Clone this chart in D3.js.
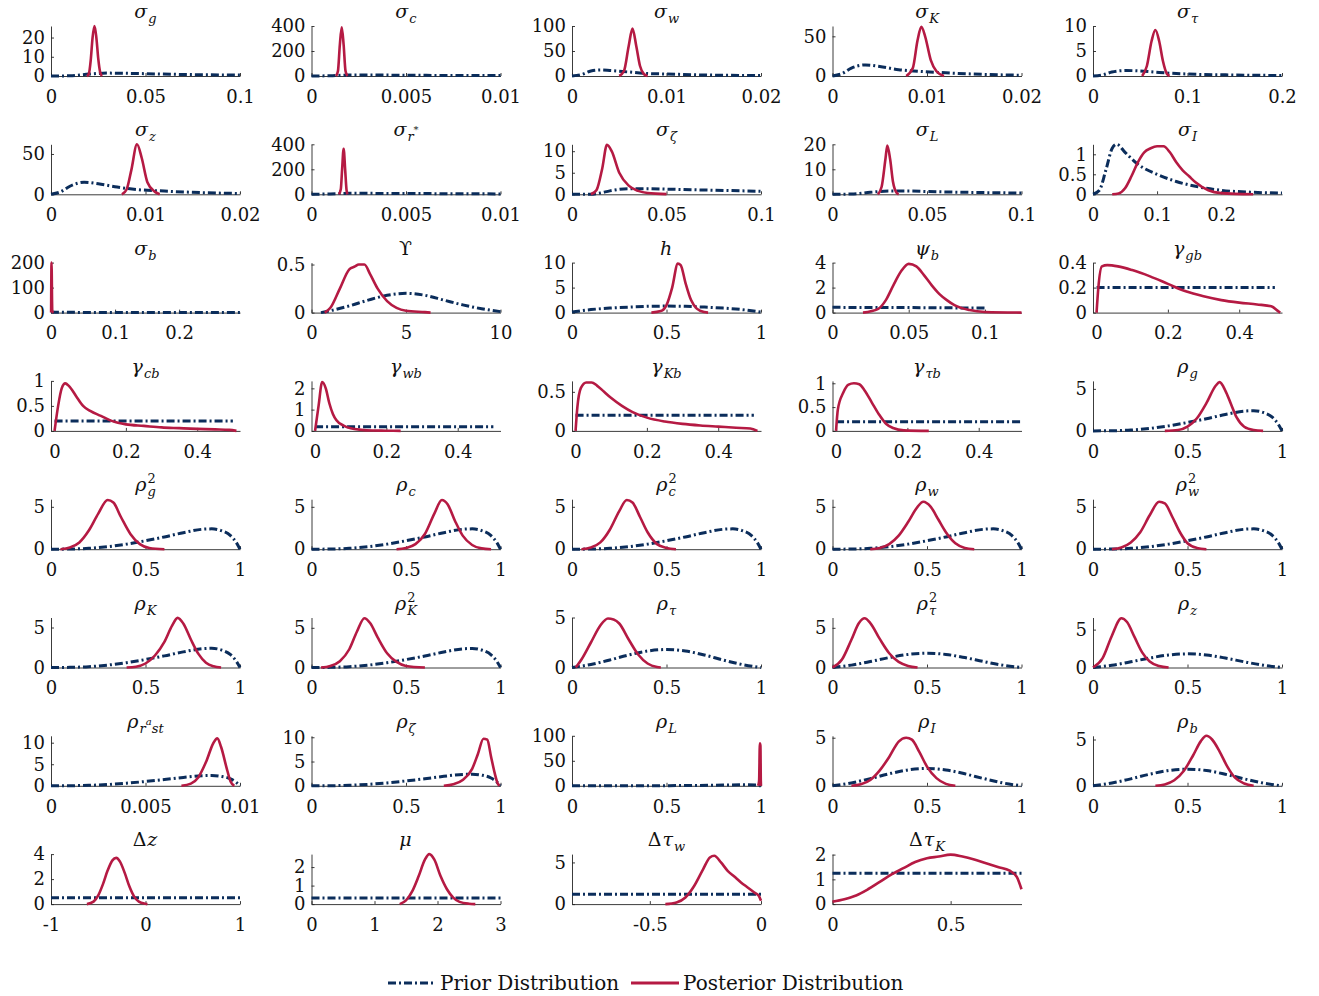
<!DOCTYPE html>
<html>
<meta charset="utf-8">
<title>Prior and posterior distributions</title>
<style>
  body { margin: 0; background: #fff; }
  text { font-family: "DejaVu Serif", "Liberation Serif", serif; fill: #111; }
</style>
<body>
<div id="chart"></div>
<script src="https://cdnjs.cloudflare.com/ajax/libs/d3/7.8.5/d3.min.js"></script>
<script>
// titles as pieces: [text, level (0 main, 1 sub, 2 sup, 3 sup inside sub), stacked on previous]
var titles = [
  [["σ",0],["g",1]], [["σ",0],["c",1]], [["σ",0],["w",1]], [["σ",0],["K",1]], [["σ",0],["τ",1]],
  [["σ",0],["z",1]], [["σ",0],["r",1],["*",3]], [["σ",0],["ζ",1]], [["σ",0],["L",1]], [["σ",0],["I",1]],
  [["σ",0],["b",1]], [["ϒ",0]], [["h",0]], [["ψ",0],["b",1]], [["γ",0],["gb",1]],
  [["γ",0],["cb",1]], [["γ",0],["wb",1]], [["γ",0],["Kb",1]], [["γ",0],["τb",1]], [["ρ",0],["g",1]],
  [["ρ",0],["g",1],["2",2,true]], [["ρ",0],["c",1]], [["ρ",0],["c",1],["2",2,true]], [["ρ",0],["w",1]], [["ρ",0],["w",1],["2",2,true]],
  [["ρ",0],["K",1]], [["ρ",0],["K",1],["2",2,true]], [["ρ",0],["τ",1]], [["ρ",0],["τ",1],["2",2,true]], [["ρ",0],["z",1]],
  [["ρ",0],["r",1],["a",3],["st",1]], [["ρ",0],["ζ",1]], [["ρ",0],["L",1]], [["ρ",0],["I",1]], [["ρ",0],["b",1]],
  [["Δ",0],["z",0]], [["μ",0]], [["Δ",0],["τ",0],["w",1]], [["Δ",0],["τ",0],["K",1]]
];

var G = [-0.01, 0.52];
var xDomains = [
  [0,0.1],[0,0.01],[0,0.02],[0,0.02],[0,0.2],
  [0,0.02],[0,0.01],[0,0.1],[0,0.1],[0,0.295],
  [0,0.295],[0,10],[0,1],[0,0.124],G,
  G,G,G,G,[0,1],
  [0,1],[0,1],[0,1],[0,1],[0,1],
  [0,1],[0,1],[0,1],[0,1],[0,1],
  [0,0.01],[0,1],[0,1],[0,1],[0,1],
  [-1,1],[0,3],[-0.85,0],[0,0.8]
];

var xTicks = [
  [0,0.05,0.1],[0,0.005,0.01],[0,0.01,0.02],[0,0.01,0.02],[0,0.1,0.2],
  [0,0.01,0.02],[0,0.005,0.01],[0,0.05,0.1],[0,0.05,0.1],[0,0.1,0.2],
  [0,0.1,0.2],[0,5,10],[0,0.5,1],[0,0.05,0.1],[0,0.2,0.4],
  [0,0.2,0.4],[0,0.2,0.4],[0,0.2,0.4],[0,0.2,0.4],[0,0.5,1],
  [0,0.5,1],[0,0.5,1],[0,0.5,1],[0,0.5,1],[0,0.5,1],
  [0,0.5,1],[0,0.5,1],[0,0.5,1],[0,0.5,1],[0,0.5,1],
  [0,0.005,0.01],[0,0.5,1],[0,0.5,1],[0,0.5,1],[0,0.5,1],
  [-1,0,1],[0,1,2,3],[-0.5,0],[0,0.5]
];

var yMaxes = [
  26, 400, 100, 63, 10,
  62, 400, 11.6, 20, 1.25,
  200, 0.52, 10, 4, 0.4,
  1.0, 2.35, 0.64, 1.05, 5.95,
  5.9, 5.9, 5.9, 5.9, 5.9,
  6.25, 6.3, 5.0, 6.3, 6.6,
  11.6, 10.3, 100, 5.2, 5.4,
  4, 2.7, 6, 2.02
];

var yTicks = [
  [0,10,20],[0,200,400],[0,50,100],[0,50],[0,5,10],
  [0,50],[0,200,400],[0,5,10],[0,10,20],[0,0.5,1],
  [0,100,200],[0,0.5],[0,5,10],[0,2,4],[0,0.2,0.4],
  [0,0.5,1],[0,1,2],[0,0.5],[0,0.5,1],[0,5],
  [0,5],[0,5],[0,5],[0,5],[0,5],
  [0,5],[0,5],[0,5],[0,5],[0,5],
  [0,5,10],[0,5,10],[0,50,100],[0,5],[0,5],
  [0,2,4],[0,1,2],[0,5],[0,1,2]
];

// priors shared by several rho panels
var rhoPriorHigh = [[0,0],[0.1,0.02],[0.2,0.1],[0.3,0.3],[0.4,0.6],[0.5,1.0],[0.6,1.45],[0.7,1.95],[0.8,2.35],[0.85,2.4],[0.9,2.2],[0.95,1.6],[0.98,0.8],[1,0]];
var rhoPriorMid = [[0,0],[0.1,0.3],[0.2,0.75],[0.3,1.25],[0.4,1.65],[0.5,1.8],[0.6,1.65],[0.7,1.25],[0.8,0.75],[0.9,0.3],[1,0]];
var gammaPrior = [[0,0.2],[0.5,0.2]];

var priors = [
  [[0,0],[0.01,0.1],[0.02,1.0],[0.03,1.5],[0.04,1.4],[0.05,1.2],[0.07,0.8],[0.1,0.5]],
  [[0,0],[0.001,2],[0.002,8],[0.003,8],[0.005,6],[0.01,3]],
  [[0,0],[0.001,3],[0.002,10],[0.003,12],[0.004,11],[0.006,8],[0.008,5],[0.01,4],[0.014,2],[0.02,1]],
  [[0,0],[0.001,3],[0.002,10],[0.0035,14],[0.005,12],[0.007,8],[0.009,6],[0.012,4],[0.016,2],[0.02,1]],
  [[0,0],[0.01,0.2],[0.02,0.8],[0.035,1.1],[0.05,1.0],[0.07,0.7],[0.1,0.4],[0.15,0.2],[0.2,0.1]],
  [[0,0],[0.001,3],[0.002,10],[0.0035,15],[0.005,13],[0.007,9],[0.009,6],[0.012,4],[0.016,2],[0.02,1]],
  [[0,0],[0.001,3],[0.002,8],[0.004,7],[0.007,5],[0.01,3]],
  [[0,0],[0.01,0],[0.015,0.3],[0.02,0.8],[0.03,1.3],[0.04,1.3],[0.05,1.2],[0.07,1.0],[0.1,0.7]],
  [[0,0],[0.01,0.1],[0.02,0.8],[0.03,1.3],[0.04,1.3],[0.05,1.1],[0.07,0.8],[0.1,0.5]],
  [[0,0],[0.01,0.1],[0.02,0.6],[0.03,1.15],[0.037,1.25],[0.05,1.05],[0.07,0.75],[0.1,0.5],[0.13,0.32],[0.16,0.2],[0.2,0.1],[0.25,0.05],[0.295,0.03]],
  [[0,0],[0.002,2],[0.01,1.5],[0.05,0.8],[0.1,0.5],[0.2,0.2],[0.295,0.1]],
  [[0.5,0],[1,0.02],[2,0.07],[3,0.13],[4,0.18],[5,0.2],[6,0.18],[7,0.13],[8,0.08],[9,0.04],[10,0.01]],
  [[0,0.1],[0.1,0.6],[0.2,0.9],[0.3,1.1],[0.4,1.25],[0.5,1.3],[0.6,1.25],[0.7,1.1],[0.8,0.9],[0.9,0.6],[1,0.1]],
  [[0,0.42],[0.05,0.4],[0.1,0.36]],
  gammaPrior,
  gammaPrior, gammaPrior, gammaPrior, [[0,0.19],[0.52,0.19]], rhoPriorHigh,
  rhoPriorHigh, rhoPriorHigh, rhoPriorHigh, rhoPriorHigh, rhoPriorHigh,
  rhoPriorHigh, rhoPriorHigh, rhoPriorMid, rhoPriorMid, rhoPriorMid,
  [[0,0],[0.001,0.02],[0.002,0.1],[0.003,0.3],[0.004,0.6],[0.005,1.0],[0.006,1.45],[0.007,1.95],[0.008,2.35],[0.0085,2.4],[0.009,2.2],[0.0095,1.6],[0.0098,0.8],[0.01,0]],
  rhoPriorHigh,
  [[0,0],[0.3,0.1],[0.6,0.5],[0.8,1.5],[0.9,2],[0.97,1.5],[1,0]],
  rhoPriorMid, rhoPriorMid,
  [[-1,0.5],[1,0.5]],
  [[0,0.33],[3,0.33]],
  [[-0.85,1.18],[0,1.18]],
  [[0,1.25],[0.8,1.25]]
];

var posteriors = [
  [[0.019,0],[0.02,1],[0.021,8],[0.022,20],[0.023,26],[0.024,20],[0.025,9],[0.026,2],[0.027,0]],
  [[0.0013,0],[0.0014,40],[0.0015,250],[0.0016,390],[0.0017,250],[0.0018,40],[0.0019,0]],
  [[0.005,0],[0.0055,10],[0.006,60],[0.0064,95],[0.0068,60],[0.0072,20],[0.0076,4],[0.008,0]],
  [[0.0078,0],[0.0085,10],[0.009,45],[0.0094,62],[0.0098,50],[0.0104,20],[0.011,6],[0.0118,0]],
  [[0.052,0],[0.057,2],[0.062,7],[0.066,9.2],[0.07,7],[0.074,3],[0.078,0.5],[0.081,0]],
  [[0.0075,0],[0.008,6],[0.0085,30],[0.0091,62],[0.0096,45],[0.0102,15],[0.011,3],[0.0115,0]],
  [[0.00145,0],[0.00155,40],[0.00162,200],[0.0017,365],[0.00178,200],[0.00185,40],[0.0019,0]],
  [[0.01,0],[0.013,1],[0.016,6],[0.0185,11.5],[0.021,10],[0.025,5],[0.03,2],[0.035,0.8],[0.04,0.3],[0.05,0.05]],
  [[0.024,0],[0.026,3],[0.028,14],[0.029,19.5],[0.0305,14],[0.032,5],[0.034,0.5],[0.035,0]],
  [[0.03,0],[0.04,0.02],[0.05,0.15],[0.06,0.45],[0.07,0.8],[0.08,1.05],[0.09,1.15],[0.1,1.2],[0.11,1.2],[0.12,1.05],[0.13,0.8],[0.14,0.6],[0.15,0.45],[0.16,0.3],[0.18,0.1],[0.2,0.03],[0.25,0]],
  [[0.0002,0],[0.0008,200],[0.002,5],[0.004,0]],
  [[0.7,0],[1,0.05],[1.5,0.25],[2,0.45],[2.3,0.48],[2.5,0.5],[2.8,0.5],[3.1,0.4],[3.5,0.25],[4,0.12],[4.5,0.05],[5,0.02],[6,0.005],[6.3,0]],
  [[0.42,0],[0.47,0.3],[0.5,1.5],[0.53,5],[0.56,9.8],[0.575,9.5],[0.6,6],[0.63,2.5],[0.66,0.8],[0.7,0.1],[0.72,0]],
  [[0.02,0],[0.03,0.3],[0.035,1],[0.04,2.2],[0.045,3.3],[0.05,3.9],[0.055,3.7],[0.06,3],[0.065,2.2],[0.07,1.5],[0.075,1],[0.08,0.6],[0.09,0.2],[0.1,0.05],[0.124,0]],
  [[0,0],[0.005,0.2],[0.015,0.37],[0.03,0.38],[0.06,0.37],[0.1,0.34],[0.15,0.29],[0.2,0.23],[0.25,0.17],[0.3,0.13],[0.35,0.1],[0.4,0.08],[0.45,0.065],[0.49,0.05],[0.51,0.01],[0.515,0]],
  [[0,0],[0.01,0.5],[0.02,0.85],[0.03,0.95],[0.04,0.9],[0.06,0.7],[0.08,0.5],[0.1,0.4],[0.13,0.3],[0.16,0.2],[0.2,0.13],[0.25,0.1],[0.3,0.07],[0.35,0.055],[0.4,0.04],[0.45,0.03],[0.49,0.02],[0.51,0]],
  [[0,0],[0.01,1.2],[0.02,2.3],[0.03,2.0],[0.04,1.3],[0.05,0.8],[0.06,0.5],[0.08,0.25],[0.1,0.12],[0.13,0.05],[0.16,0.02],[0.2,0.01],[0.24,0]],
  [[0,0],[0.005,0.3],[0.015,0.55],[0.03,0.62],[0.045,0.62],[0.06,0.58],[0.08,0.5],[0.1,0.42],[0.13,0.32],[0.16,0.24],[0.2,0.17],[0.25,0.12],[0.3,0.09],[0.35,0.07],[0.4,0.055],[0.45,0.04],[0.49,0.03],[0.51,0]],
  [[0,0],[0.005,0.45],[0.02,0.8],[0.035,0.97],[0.05,1.0],[0.065,0.98],[0.08,0.85],[0.1,0.6],[0.12,0.35],[0.14,0.15],[0.16,0.06],[0.19,0.01],[0.26,0]],
  [[0.38,0],[0.45,0.1],[0.5,0.5],[0.55,1.5],[0.6,3.3],[0.65,5.4],[0.67,5.8],[0.7,4.8],[0.73,3.2],[0.76,1.6],[0.8,0.5],[0.85,0.1],[0.9,0]],
  [[0.05,0],[0.1,0.2],[0.15,0.8],[0.2,2.2],[0.25,4.2],[0.3,5.8],[0.33,5.5],[0.37,3.8],[0.42,1.8],[0.47,0.6],[0.52,0.15],[0.6,0]],
  [[0.45,0],[0.5,0.15],[0.55,0.6],[0.6,1.8],[0.65,4.2],[0.69,5.8],[0.72,5.3],[0.76,3.3],[0.8,1.6],[0.85,0.5],[0.9,0.1],[0.95,0]],
  [[0.05,0],[0.1,0.2],[0.15,0.8],[0.2,2.3],[0.25,4.5],[0.29,5.8],[0.32,5.5],[0.36,3.8],[0.4,2],[0.45,0.6],[0.5,0.15],[0.55,0]],
  [[0.2,0],[0.25,0.15],[0.3,0.6],[0.35,1.6],[0.4,3.2],[0.45,5],[0.48,5.6],[0.52,5],[0.56,3.5],[0.6,2],[0.65,0.7],[0.7,0.15],[0.75,0]],
  [[0.1,0],[0.15,0.2],[0.2,0.8],[0.25,2],[0.3,4],[0.35,5.6],[0.38,5.4],[0.42,3.8],[0.46,2],[0.5,0.7],[0.55,0.15],[0.6,0]],
  [[0.4,0],[0.45,0.1],[0.5,0.5],[0.55,1.5],[0.6,3.2],[0.64,5.2],[0.67,6.2],[0.7,5.5],[0.74,3.5],[0.78,1.7],[0.82,0.6],[0.86,0.15],[0.9,0]],
  [[0.05,0],[0.1,0.2],[0.15,0.8],[0.2,2.3],[0.24,4.5],[0.28,6.2],[0.31,5.6],[0.35,3.8],[0.4,1.8],[0.45,0.7],[0.5,0.2],[0.6,0]],
  [[0.02,0],[0.05,0.8],[0.1,2.5],[0.15,4.2],[0.19,4.9],[0.22,4.8],[0.25,4.4],[0.3,2.8],[0.35,1.3],[0.4,0.4],[0.45,0.05],[0.47,0]],
  [[0,0],[0.05,1],[0.1,3.5],[0.14,5.6],[0.17,6.2],[0.2,5.6],[0.25,3.6],[0.3,1.8],[0.35,0.7],[0.4,0.2],[0.45,0]],
  [[0,0],[0.05,1.2],[0.1,4.2],[0.15,6.5],[0.18,6],[0.22,4],[0.26,2],[0.3,0.8],[0.35,0.2],[0.4,0]],
  [[0.0069,0],[0.0074,0.5],[0.0078,2],[0.0082,5.5],[0.0086,10],[0.0088,11],[0.009,9],[0.0093,4],[0.0095,1],[0.0097,0]],
  [[0.7,0],[0.75,0.3],[0.8,1.2],[0.85,3.5],[0.88,6.5],[0.91,9.7],[0.93,9.5],[0.95,6],[0.97,2.5],[0.985,0.5],[0.995,0]],
  [[0.985,0],[0.99,10],[0.994,85],[0.997,80],[0.999,10],[1,0]],
  [[0.1,0],[0.15,0.15],[0.2,0.6],[0.25,1.6],[0.3,3],[0.35,4.6],[0.39,5],[0.42,4.8],[0.46,3.5],[0.5,2],[0.55,0.8],[0.6,0.2],[0.65,0]],
  [[0.33,0],[0.38,0.15],[0.43,0.6],[0.48,1.6],[0.53,3.3],[0.57,4.8],[0.6,5.4],[0.63,5],[0.67,3.7],[0.71,2.1],[0.75,0.9],[0.8,0.25],[0.85,0]],
  [[-0.62,0],[-0.55,0.2],[-0.5,0.7],[-0.45,1.6],[-0.4,2.7],[-0.35,3.5],[-0.31,3.7],[-0.27,3.4],[-0.22,2.5],[-0.17,1.4],[-0.12,0.6],[-0.07,0.2],[0,0.03],[0.02,0]],
  [[1.4,0],[1.5,0.2],[1.6,0.7],[1.7,1.5],[1.8,2.4],[1.87,2.7],[1.95,2.4],[2.05,1.5],[2.15,0.8],[2.25,0.35],[2.35,0.12],[2.5,0.02],[2.6,0]],
  [[-0.43,0],[-0.38,0.2],[-0.34,0.8],[-0.3,2.2],[-0.26,4.2],[-0.23,5.6],[-0.21,5.8],[-0.18,5],[-0.15,4],[-0.12,3.3],[-0.09,2.6],[-0.06,2],[-0.03,1.4],[-0.01,1],[0,0.4]],
  [[0,0.1],[0.05,0.2],[0.1,0.35],[0.15,0.6],[0.2,0.9],[0.25,1.2],[0.3,1.45],[0.35,1.7],[0.4,1.85],[0.45,1.92],[0.5,2.0],[0.55,1.92],[0.6,1.8],[0.65,1.65],[0.7,1.5],[0.75,1.35],[0.78,1.1],[0.8,0.6]]
];

var priorColor = "#0b2d5b", postColor = "#b51a43";
var W = 1319, H = 996, pw = 189, ph = 50;
var fontStack = "'DejaVu Serif', 'Liberation Serif', serif";

var svg = d3.select("#chart").append("svg").attr("width", W).attr("height", H);

function drawTitle(g, pieces, cx, y) {
  var t = g.append("g");
  var x = 0, prevStart = 0;
  pieces.forEach(function (p) {
    var lvl = p[1];
    var size = [19, 13, 13, 10][lvl], dy = [0, 5, -8, -3][lvl];
    var start = p[2] ? prevStart : x;
    var el = t.append("text")
      .attr("x", start).attr("y", y + dy)
      .style("font-family", fontStack)
      .style("font-size", size + "px")
      .style("font-style", /^[ϒΔ0-9*]+$/.test(p[0]) ? "normal" : "italic")
      .text(p[0]);
    var w = el.node().getComputedTextLength();
    prevStart = start;
    x = Math.max(x, start + w + (lvl == 0 ? 1 : 0));
  });
  t.attr("transform", "translate(" + (cx - x / 2) + ",0)");
}

titles.forEach(function (title, i) {
  var col = i % 5, row = Math.floor(i / 5);
  var left = 51 + col * 260.5, base = 76 + row * 118.3;
  var g = svg.append("g").attr("transform", "translate(" + left + "," + (base - ph) + ")");

  var x = d3.scaleLinear().domain(xDomains[i]).range([0, pw]);
  var y = d3.scaleLinear().domain([0, yMaxes[i]]).range([ph, 0]);

  var xa = g.append("g").attr("transform", "translate(0," + ph + ")")
    .call(d3.axisBottom(x).tickValues(xTicks[i]).tickSize(-3).tickSizeOuter(0).tickFormat(String));
  xa.selectAll("text").attr("y", 14);

  var ya = g.append("g")
    .call(d3.axisLeft(y).tickValues(yTicks[i]).tickSize(-3).tickSizeOuter(0).tickFormat(String));
  ya.selectAll("text").attr("x", -6);

  g.selectAll(".domain, .tick line").attr("stroke", "#262626").attr("stroke-width", 0.9);
  g.selectAll(".tick text").attr("fill", "#111")
    .style("font-family", fontStack).style("font-size", "18px");

  var line = d3.line()
    .x(function (d) { return x(d[0]); })
    .y(function (d) { return y(d[1]); })
    .curve(d3.curveMonotoneX);

  g.append("path").datum(priors[i])
    .attr("d", line).attr("fill", "none")
    .attr("stroke", priorColor).attr("stroke-width", 3)
    .attr("stroke-dasharray", "8,3,2,3");

  g.append("path").datum(posteriors[i])
    .attr("d", line).attr("fill", "none")
    .attr("stroke", postColor).attr("stroke-width", 2.6)
    .attr("stroke-linejoin", "round");

  drawTitle(g, title, pw / 2, -8);
});

// legend
var legend = [
  { label: "Prior Distribution", color: priorColor, dash: "8,3,2,3", x: 388 },
  { label: "Posterior Distribution", color: postColor, dash: null, x: 631 }
];
var lg = svg.append("g").attr("transform", "translate(0,983)");
legend.forEach(function (d) {
  lg.append("line").attr("x1", d.x).attr("x2", d.x + 48).attr("y1", 0).attr("y2", 0)
    .attr("stroke", d.color).attr("stroke-width", 3)
    .attr("stroke-dasharray", d.dash);
  lg.append("text").attr("x", d.x + 52).attr("y", 7)
    .style("font-family", fontStack).style("font-size", "20px").text(d.label);
});
</script>
</body>
</html>
